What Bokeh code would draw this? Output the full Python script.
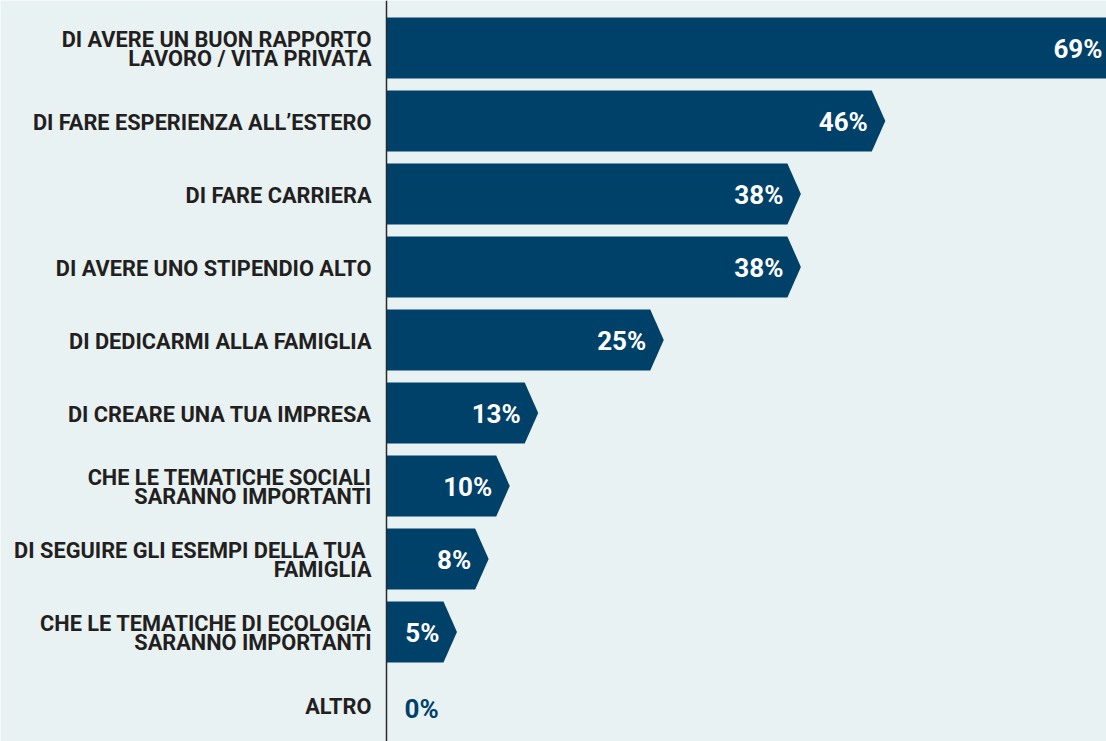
from bokeh.plotting import figure
from bokeh.models import Range1d, Span, ColumnDataSource
from bokeh.core.properties import value
from bokeh.embed import file_html
from bokeh.resources import INLINE
import numpy as np

# ---- data ----
categories = [
    "DI AVERE UN BUON RAPPORTO\nLAVORO / VITA PRIVATA",
    "DI FARE ESPERIENZA ALL\u2019ESTERO",
    "DI FARE CARRIERA",
    "DI AVERE UNO STIPENDIO ALTO",
    "DI DEDICARMI ALLA FAMIGLIA",
    "DI CREARE UNA TUA IMPRESA",
    "CHE LE TEMATICHE SOCIALI\nSARANNO IMPORTANTI",
    "DI SEGUIRE GLI ESEMPI DELLA TUA \nFAMIGLIA",
    "CHE LE TEMATICHE DI ECOLOGIA\nSARANNO IMPORTANTI",
    "ALTRO",
]
values = [69, 46, 38, 38, 25, 13.1, 10.4, 8.4, 5.4, 0]
value_labels = ["69%", "46%", "38%", "38%", "25%", "13%", "10%", "8%", "5%", "0%"]

# ---- layout ----
W, H = 1106, 741
BG = "#E9F2F3"
NAVY = "#00416A"
px_per_unit = 10.55
axis_px = 386
row_px = 73.0
first_row_px = 47.5

x_start = -axis_px / px_per_unit
x_end = (W - axis_px) / px_per_unit
y_top = first_row_px / row_px
y_bottom = y_top - H / row_px

p = figure(width=W, height=H, output_backend="svg", toolbar_location=None,
           x_range=Range1d(x_start, x_end), y_range=Range1d(y_bottom, y_top),
           min_border=0)
p.axis.visible = False
p.grid.visible = False
p.outline_line_color = None
p.background_fill_color = BG
p.border_fill_color = BG

vals = np.array(values, dtype=float)
ys = -np.arange(len(vals), dtype=float)
half_h = 30.5 / row_px
tip = 13.5 / px_per_unit

xs_poly, ys_poly = [], []
for v, y in zip(vals, ys):
    if v <= 0:
        continue
    xs_poly.append([0, v, v + tip, v, 0])
    ys_poly.append([y - half_h, y - half_h, y, y + half_h, y + half_h])
p.patches(xs_poly, ys_poly, fill_color=NAVY, line_color=None)

p.add_layout(Span(location=0, dimension="height", line_color="#2A2A2A", line_width=1.5))

# category labels
p.text(x=np.zeros(len(ys)), y=ys, text=categories, text_align="right",
       text_baseline="middle", x_offset=-15, y_offset=1,
       text_font=value("Roboto"), text_font_style="bold", text_font_size="21.75px",
       text_color="#231F20", text_line_height=0.77)

# value labels inside bars
pos = vals > 0
lab_src = ColumnDataSource(dict(
    x=np.minimum(vals[pos], x_end), y=ys[pos],
    t=[l for l, k in zip(value_labels, pos) if k]))
p.text(x="x", y="y", text="t", source=lab_src, text_align="right",
       text_baseline="middle", x_offset=-4, y_offset=1,
       text_font=value("Roboto"), text_font_style="bold", text_font_size="26px",
       text_color="white")

zero_src = ColumnDataSource(dict(
    x=vals[~pos], y=ys[~pos],
    t=[l for l, k in zip(value_labels, pos) if not k]))
p.text(x="x", y="y", text="t", source=zero_src, text_align="left",
       text_baseline="middle", x_offset=18, y_offset=4,
       text_font=value("Roboto"), text_font_style="bold", text_font_size="26px",
       text_color=NAVY)

open("out.html", "w").write(file_html(p, INLINE))
